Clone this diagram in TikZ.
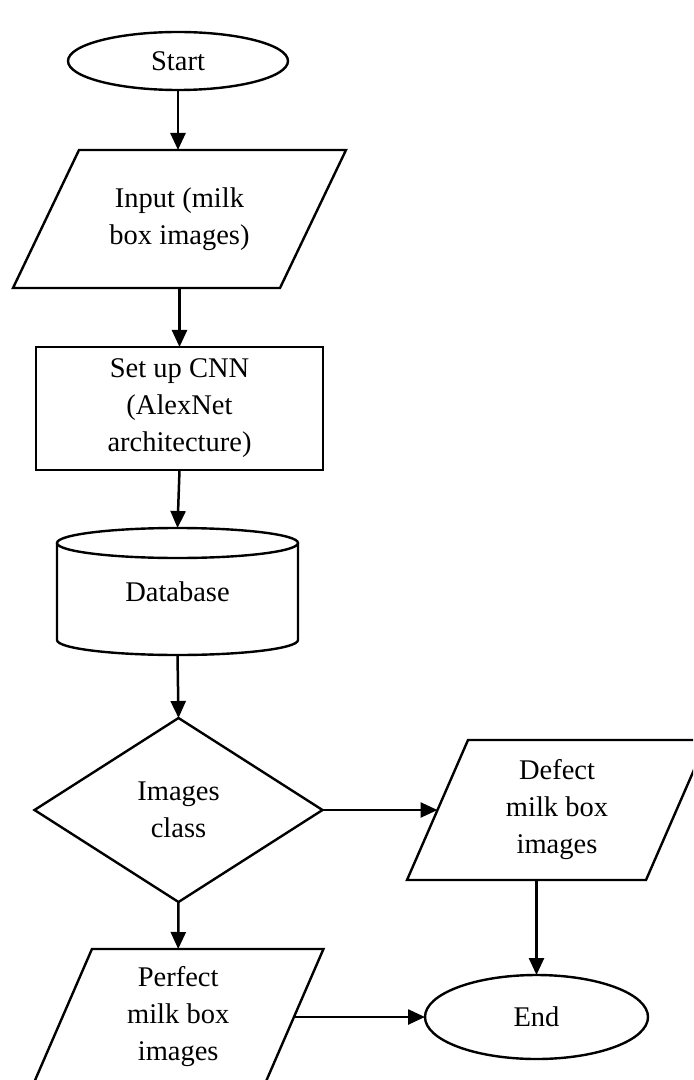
\documentclass[tikz,border=0pt]{standalone}
\usepackage{fontspec}
\setmainfont{Liberation Serif}
\usetikzlibrary{shapes.geometric,arrows.meta}
\begin{document}
\begin{tikzpicture}[x=0.5pt,y=-0.5pt,
  every node/.style={font=\fontsize{14.25pt}{18.5pt}\selectfont, align=center, inner sep=0pt, outer sep=0pt},
  shp/.style={draw, line width=1.2pt, line join=miter},
  arr/.style={line width=1.25pt, -{Triangle[length=8.5pt,width=7.5pt]}}
]
\useasboundingbox (0,0) rectangle (693,1080);
\clip (0,0) rectangle (693,1080);
% nodes
\node[shp, ellipse, minimum width=110pt, minimum height=29pt] (start) at (178,61) {Start};
\node[rectangle, minimum width=133.5pt, minimum height=69pt] (input) at (179.5,219) {Input (milk\\box images)};
\node[shp, rectangle, minimum width=143.5pt, minimum height=61.5pt] (cnn) at (179.5,408.5) {Set up CNN\\(AlexNet\\architecture)};
\node[rectangle, minimum width=120.5pt, minimum height=63.5pt] (db) at (177.5,591.5) {Database};
\node[shp, diamond, minimum width=144pt, minimum height=92pt] (cls) at (178.5,810) {Images\\class};
\node[rectangle, minimum width=119.5pt, minimum height=70pt] (defect) at (557,810) {Defect\\milk box\\images};
\node[shp, ellipse, minimum width=111.5pt, minimum height=42pt] (end) at (536.5,1017) {End};
\node[rectangle, minimum width=115.75pt, minimum height=68pt] (perfect) at (178.2,1017) {Perfect\\milk box\\images};
% parallelogram outlines
\draw[shp] ([xshift=-16.5pt]input.south west) -- ([xshift=-16.5pt]input.south east)
  -- ([xshift=16.5pt]input.north east) -- ([xshift=16.5pt]input.north west) -- cycle;
\draw[shp] ([xshift=-15.25pt]defect.south west) -- ([xshift=-15.25pt]defect.south east)
  -- ([xshift=15.25pt]defect.north east) -- ([xshift=15.25pt]defect.north west) -- cycle;
\draw[shp] ([xshift=-14.75pt]perfect.south west) -- ([xshift=-14.75pt]perfect.south east)
  -- ([xshift=14.75pt]perfect.north east) -- ([xshift=14.75pt]perfect.north west) -- cycle;
% cylinder outline
\draw[shp] ([yshift=-7.5pt]db.north) ellipse[x radius=60.25pt, y radius=7.5pt];
\draw[shp] ([yshift=-7.5pt]db.north west) -- ([yshift=7.5pt]db.south west)
  arc[start angle=180, end angle=360, x radius=60.25pt, y radius=7.5pt] -- ([yshift=-7.5pt]db.north east);
% connectors
\draw[arr] (start.south) -- (start.south |- input.north);
\draw[arr] (input.south -| cnn.north) -- (cnn.north);
\draw[arr] (cnn.south) -- (db.north);
\draw[arr] (db.south) -- (cls.north);
\draw[arr] (cls.east) -- (defect.west);
\draw[arr] (end.north |- defect.south) -- (end.north);
\draw[arr] (cls.south) -- (perfect.north);
\draw[arr] (perfect.east) -- (end.west);
\end{tikzpicture}
\end{document}
